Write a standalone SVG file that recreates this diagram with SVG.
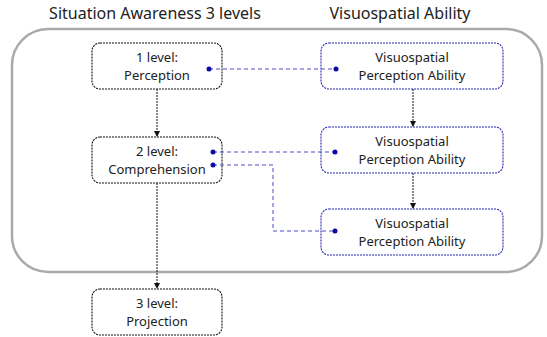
<svg xmlns="http://www.w3.org/2000/svg" width="547" height="337" viewBox="0 0 547 337">
<style>
text{font-family:"Noto Sans","Open Sans","Liberation Sans",sans-serif;fill:#222;text-anchor:middle}
.t{font-size:16px}
.n{font-size:13px}
.lb{fill:#fff;stroke:#111;stroke-width:1.1;stroke-dasharray:2 1}
.rb{fill:#fff;stroke:#2626b0;stroke-width:1.1;stroke-dasharray:2 1}
.v{fill:none;stroke:#111;stroke-width:1;stroke-dasharray:2 1}
.d{fill:none;stroke:#4a4ac8;stroke-width:1;stroke-dasharray:4 3}
.dot{fill:#0a0aa8}
</style>
<defs>
<marker id="ar" markerWidth="6" markerHeight="6" refX="5" refY="3" orient="auto" markerUnits="userSpaceOnUse">
<path d="M0,0 L6,3 L0,6 z" fill="#111"/>
</marker>
</defs>
<text class="t" x="155" y="19">Situation Awareness 3 levels</text>
<text class="t" x="400" y="19">Visuospatial Ability</text>
<rect x="12" y="29" width="530" height="243" rx="36" fill="none" stroke="#aaa" stroke-width="2.5"/>
<g id="sa1"><rect class="lb" x="92" y="43" width="130" height="46" rx="8"/><text class="n" x="157" y="62">1 level:</text><text class="n" x="157" y="80">Perception</text></g>
<g id="sa2"><rect class="lb" x="92" y="137" width="130" height="46" rx="8"/><text class="n" x="157" y="156">2 level:</text><text class="n" x="157" y="174">Comprehension</text></g>
<g id="sa3"><rect class="lb" x="92" y="289" width="130" height="46" rx="8"/><text class="n" x="157" y="308">3 level:</text><text class="n" x="157" y="326">Projection</text></g>
<g id="vs1"><rect class="rb" x="321" y="43" width="182" height="46" rx="8"/><text class="n" x="412" y="62">Visuospatial</text><text class="n" x="412" y="80">Perception Ability</text></g>
<g id="vs2"><rect class="rb" x="321" y="127" width="182" height="46" rx="8"/><text class="n" x="412" y="146">Visuospatial</text><text class="n" x="412" y="164">Perception Ability</text></g>
<g id="vs3"><rect class="rb" x="321" y="209" width="182" height="46" rx="8"/><text class="n" x="412" y="228">Visuospatial</text><text class="n" x="412" y="246">Perception Ability</text></g>
<g id="connectors">
<line class="v" x1="157" y1="89" x2="157" y2="136" marker-end="url(#ar)"/>
<line class="v" x1="157" y1="183" x2="157" y2="288" marker-end="url(#ar)"/>
<line class="v" x1="413" y1="89" x2="413" y2="126" marker-end="url(#ar)"/>
<line class="v" x1="413" y1="173" x2="413" y2="208" marker-end="url(#ar)"/>
<line class="d" x1="209" y1="69" x2="336" y2="69"/>
<line class="d" x1="213" y1="152" x2="335" y2="152"/>
<polyline class="d" points="213,165 273,165 273,231 335,231"/>
<circle class="dot" cx="209" cy="69" r="2.5"/>
<circle class="dot" cx="336" cy="69" r="2.5"/>
<circle class="dot" cx="213" cy="152" r="2.5"/>
<circle class="dot" cx="335" cy="152" r="2.5"/>
<circle class="dot" cx="213" cy="165" r="2.5"/>
<circle class="dot" cx="335" cy="231" r="2.5"/>
</g>
</svg>
